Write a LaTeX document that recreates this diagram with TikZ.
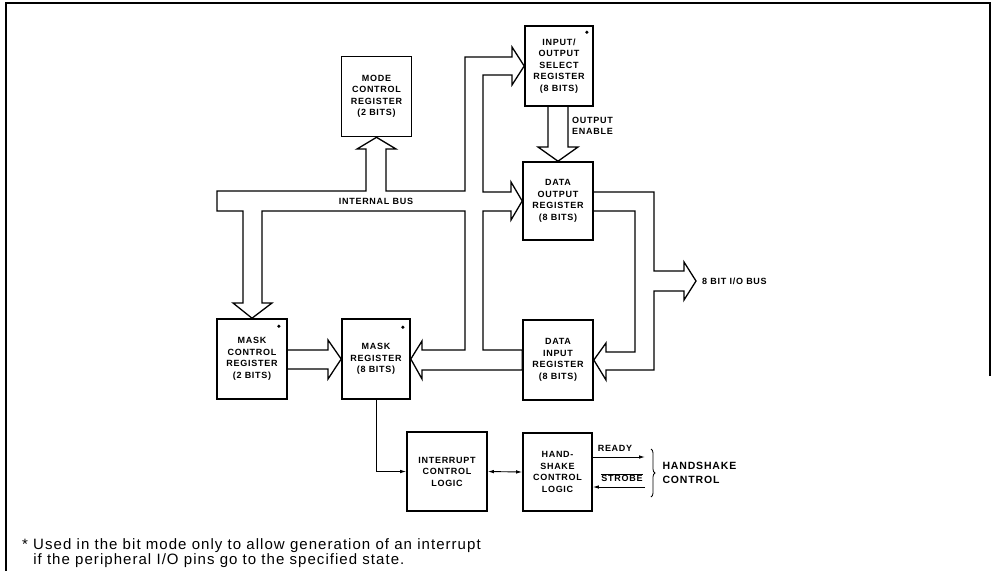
\documentclass[tikz,border=0pt]{standalone}
\usepackage{fontspec}
\setmainfont{Liberation Sans}
\newfontfamily\regfont[LetterSpace=8]{Liberation Sans}
\newfontfamily\notefont[LetterSpace=7]{Liberation Sans}
\usetikzlibrary{positioning,calc,arrows.meta,decorations.pathreplacing}

\tikzset{
    >={Latex[length=6pt,width=3.5pt]},
    reg/.style={draw,line width=1.6pt,minimum width=70pt,minimum height=80pt,inner sep=1pt,align=center,
        font=\regfont\bfseries\fontsize{9}{11.5}\selectfont},
    bus/.style={line width=1.3pt},
    sig/.style={line width=0.9pt,->},
    star/.style={fill,circle,inner sep=0pt,minimum size=3.5pt},
    lbl/.style={font=\regfont\bfseries\fontsize{9}{11.5}\selectfont,inner sep=1pt}
}

\begin{document}
\begin{tikzpicture}[x=1pt,y=-1pt]
        \useasboundingbox (0,0) rectangle (992,571);
        \draw[line width=1.2pt] (990,376) -- (990,3) -- (6,3) -- (6,571);

        % registers
        \node[reg] (mode) at (376.5,96.5) {MODE\\CONTROL\\REGISTER\\(2 BITS)};
        \node[reg,minimum width=68pt] (iosel) at (559,66) {INPUT/\\OUTPUT\\SELECT\\REGISTER\\(8 BITS)};
        \node[reg,minimum height=78pt] (dout) at (558,201) {DATA\\OUTPUT\\REGISTER\\(8 BITS)};
        \node[reg] (din) at (558,360) {DATA\\INPUT\\REGISTER\\(8 BITS)};
        \node[reg] (mcr) at (252,359) {MASK\\CONTROL\\REGISTER\\(2 BITS)};
        \node[reg,minimum width=68pt] (mreg) at (376,359) {MASK\\REGISTER\\(8 BITS)};
        \node[reg,minimum width=80pt,minimum height=79pt] (intr) at (447,471.5) {INTERRUPT\\CONTROL\\LOGIC};
        \node[reg,minimum width=69pt,minimum height=78pt] (hs) at (557.5,472) {HAND-\\SHAKE\\CONTROL\\LOGIC};

        \node[star] (iostar) at ($(iosel.north east)+(-7,7)$) {};
        \node[star] (mcrstar) at ($(mcr.north east)+(-9,8)$) {};
        \node[star] (mregstar) at ($(mreg.north east)+(-8,9)$) {};

        % internal bus
        \draw[bus] (217,191) -- (366,191) -- (366,149) -- (357,149) -- (mode.south) -- (396,149) -- (386,149)
            -- (386,191) -- (465,191) -- (465,57) -- (512,57) -- (512,47) -- (iosel.west) -- (512,85) -- (512,75)
            -- (483,75) -- (483,192) -- (511,192) -- (511,182) -- (dout.west) -- (511,220) -- (511,211)
            -- (483,211) -- (483,350) -- ($(din.west)+(0,-10)$) -- ($(din.west)+(0,10)$) -- (422,370)
            -- (422,379) -- (mreg.east) -- (422,341) -- (422,350) -- (465,350) -- (465,211) -- (262,211)
            -- (262,303) -- (272,303) -- (mcr.north) -- (233,303) -- (243,303) -- (243,211) -- (217,211) -- cycle;
        \node[lbl] (intbus) at (376,201) {INTERNAL BUS};

        \draw[bus] ($(mcr.east)+(0,-9)$) -- (328,350) -- (328,340) -- (mreg.west) -- (328,379) -- (328,369)
            -- ($(mcr.east)+(0,10)$);
        \draw[bus] ($(iosel.south)+(-11,0)$) -- (548,147) -- (538,147) -- (dout.north) -- (578,147) -- (568,147)
            -- ($(iosel.south)+(9,0)$);
        \node[lbl,align=left,anchor=west] (oe) at (571,126) {OUTPUT\\ENABLE};

        % 8 bit bus
        \coordinate (iotip) at (696,281);
        \draw[bus] ($(dout.east)+(0,-9)$) -- (654,192) -- (654,271) -- (684,271) -- (684,262) -- (iotip)
            -- (684,300) -- (684,291) -- (654,291) -- (654,370) -- (606,370) -- (606,380) -- (din.east)
            -- (606,343) -- (606,352) -- (635,352) -- (635,211) -- ($(dout.east)+(0,10)$);
        \node[lbl,anchor=west] (iolbl) at ($(iotip)+(5,0)$) {8 BIT I/O BUS};

        % control lines
        \draw[sig] (mreg.south) |- (intr.west);
        \draw[sig,<->] (intr.east) -- (hs.west);
        \coordinate (rdy) at (645,457);
        \coordinate (stb) at (645,487);
        \draw[sig] (hs.east |- rdy) -- (rdy);
        \draw[sig] (stb) -- (hs.east |- stb);
        \node[lbl,anchor=south] (rdylbl) at (615,453) {READY};
        \node[lbl,anchor=south] (stblbl) at (622,483) {$\overline{\hbox{STROBE}}$};
        \draw[decorate,decoration={brace,amplitude=4pt},line width=0.8pt] (651,449) -- (651,497);
        \node[font=\regfont\bfseries\fontsize{10.5}{13.5}\selectfont,align=left,anchor=west] (hsctl) at (659,473) {HANDSHAKE\\CONTROL};

        \node[font=\notefont\fontsize{15}{15}\selectfont,align=left,anchor=north west,inner sep=0pt] (note) at (22,538)
            {* Used in the bit mode only to allow generation of an interrupt\\\hphantom{* }if the peripheral I/O pins go to the specified state.};
\end{tikzpicture}
\end{document}
